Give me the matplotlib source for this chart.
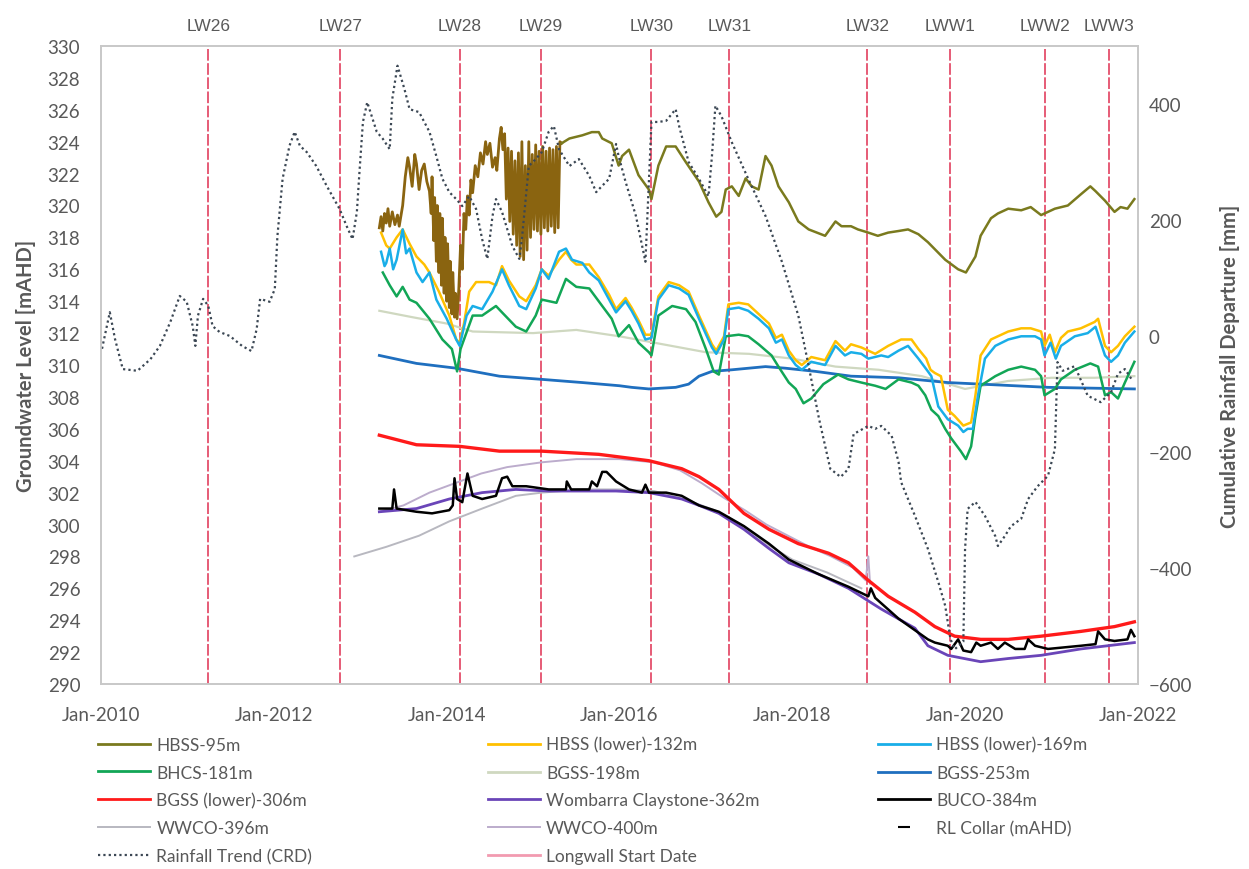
import numpy as np
import matplotlib.pyplot as plt
from matplotlib.lines import Line2D

plt.rcParams['font.family'] = ['Lato', 'DejaVu Sans']

# ---- data (decimal year, value) ----
# HBSS-95m: logger record (noisy) then smoothed record
hbss95_raw = [
    (2013.22, 318.6), (2013.24, 319.3), (2013.26, 318.4), (2013.28, 319.5), (2013.30, 318.9),
    (2013.32, 319.8), (2013.34, 318.7), (2013.37, 319.6), (2013.40, 318.8), (2013.43, 319.4),
    (2013.45, 318.7), (2013.49, 320.0), (2013.52, 321.8), (2013.55, 323.0), (2013.57, 322.4),
    (2013.60, 321.2), (2013.63, 323.2), (2013.65, 322.6), (2013.68, 321.0), (2013.71, 322.2),
    (2013.74, 322.6), (2013.77, 321.5), (2013.80, 320.9), (2013.82, 319.5), (2013.83, 321.8),
    (2013.85, 317.8), (2013.86, 320.5), (2013.88, 316.5), (2013.89, 320.0), (2013.91, 315.8),
    (2013.92, 319.5), (2013.94, 315.0), (2013.95, 319.2), (2013.97, 314.5), (2013.98, 318.0),
    (2014.00, 314.0), (2014.01, 317.6), (2014.03, 313.6), (2014.04, 316.5), (2014.06, 313.2),
    (2014.07, 315.8), (2014.09, 313.0), (2014.10, 314.5), (2014.12, 312.9), (2014.14, 314.8),
    (2014.16, 317.5), (2014.18, 316.0), (2014.20, 319.5), (2014.22, 318.5), (2014.24, 320.6),
    (2014.26, 319.4), (2014.28, 321.6), (2014.30, 320.8), (2014.33, 322.5), (2014.36, 321.8),
    (2014.39, 323.3), (2014.42, 322.6), (2014.45, 324.0), (2014.47, 323.2), (2014.50, 323.9),
    (2014.53, 322.4), (2014.56, 323.0), (2014.58, 322.2), (2014.61, 324.2), (2014.63, 324.9),
    (2014.65, 323.5), (2014.67, 324.5), (2014.69, 320.4), (2014.71, 323.6), (2014.73, 319.0),
    (2014.75, 323.4), (2014.77, 318.2), (2014.79, 322.8), (2014.81, 317.5), (2014.83, 323.3),
    (2014.85, 316.8), (2014.87, 324.0), (2014.89, 316.6), (2014.91, 322.5), (2014.93, 317.2),
    (2014.95, 324.0), (2014.97, 318.0), (2014.99, 323.2), (2015.01, 318.5), (2015.03, 323.8),
    (2015.05, 318.4), (2015.07, 323.4), (2015.09, 318.2), (2015.11, 323.7), (2015.13, 318.6),
    (2015.15, 323.4), (2015.17, 318.4), (2015.19, 323.6), (2015.21, 318.7), (2015.23, 323.5),
    (2015.25, 318.3), (2015.27, 323.7), (2015.29, 318.6), (2015.31, 324.0), (2015.33, 323.9),
]
hbss95 = [
    (2015.33, 323.9), (2015.42, 324.2), (2015.57, 324.4), (2015.68, 324.6), (2015.76, 324.6),
    (2015.80, 324.2), (2015.91, 323.9), (2015.99, 322.5), (2016.03, 323.1), (2016.11, 323.5),
    (2016.22, 321.9), (2016.34, 321.0), (2016.37, 320.4), (2016.45, 322.5), (2016.54, 323.7),
    (2016.65, 323.7), (2016.77, 322.7), (2016.92, 321.5), (2017.03, 320.2), (2017.12, 319.3),
    (2017.18, 319.6), (2017.23, 321.0), (2017.30, 321.2), (2017.38, 320.6), (2017.46, 321.7),
    (2017.53, 321.2), (2017.61, 321.0), (2017.69, 323.1), (2017.76, 322.5), (2017.84, 321.2),
    (2017.96, 320.2), (2018.07, 319.0), (2018.19, 318.5), (2018.38, 318.1), (2018.50, 319.0),
    (2018.57, 318.7), (2018.68, 318.7), (2018.76, 318.5), (2018.88, 318.3), (2018.99, 318.1),
    (2019.11, 318.3), (2019.23, 318.4), (2019.34, 318.5), (2019.46, 318.2), (2019.57, 317.7),
    (2019.77, 316.6), (2019.92, 316.0), (2020.01, 315.8), (2020.12, 316.8), (2020.18, 318.1),
    (2020.30, 319.2), (2020.38, 319.5), (2020.50, 319.8), (2020.65, 319.7), (2020.76, 319.9),
    (2020.88, 319.4), (2020.96, 319.6), (2021.04, 319.8), (2021.19, 320.0), (2021.34, 320.7),
    (2021.45, 321.2), (2021.51, 320.9), (2021.62, 320.3), (2021.73, 319.6), (2021.80, 319.9),
    (2021.88, 319.8), (2021.96, 320.4),
]
hbss132 = [
    (2013.24, 318.3), (2013.30, 317.5), (2013.34, 317.3), (2013.42, 318.0), (2013.49, 318.5),
    (2013.57, 317.6), (2013.65, 316.8), (2013.74, 316.3), (2013.80, 315.8), (2013.91, 314.6),
    (2014.03, 313.1), (2014.11, 311.6), (2014.15, 311.4), (2014.20, 312.6), (2014.26, 314.6),
    (2014.34, 315.2), (2014.49, 315.2), (2014.57, 315.0), (2014.64, 316.2), (2014.72, 315.3),
    (2014.84, 314.3), (2014.92, 314.0), (2015.03, 315.0), (2015.10, 316.0), (2015.18, 315.6),
    (2015.30, 316.6), (2015.38, 317.1), (2015.44, 316.6), (2015.50, 316.3), (2015.65, 316.3),
    (2015.76, 315.5), (2015.88, 314.4), (2015.96, 313.5), (2016.07, 314.2), (2016.14, 313.6),
    (2016.22, 312.8), (2016.30, 311.9), (2016.37, 311.9), (2016.45, 314.3), (2016.57, 315.2),
    (2016.69, 315.0), (2016.80, 314.6), (2016.92, 313.1), (2017.07, 311.3), (2017.12, 310.9),
    (2017.21, 311.8), (2017.26, 313.8), (2017.38, 313.9), (2017.49, 313.8), (2017.61, 313.2),
    (2017.73, 312.6), (2017.81, 311.7), (2017.88, 311.9), (2017.96, 310.9), (2018.04, 310.3),
    (2018.11, 310.0), (2018.22, 310.5), (2018.38, 310.3), (2018.50, 311.5), (2018.61, 310.9),
    (2018.68, 311.3), (2018.80, 311.1), (2018.96, 310.7), (2019.11, 311.2), (2019.26, 311.6),
    (2019.38, 311.6), (2019.46, 311.0), (2019.55, 310.4), (2019.60, 309.7), (2019.65, 309.5),
    (2019.72, 309.3), (2019.80, 307.2), (2019.88, 306.8), (2019.98, 306.2), (2020.07, 306.4),
    (2020.12, 308.1), (2020.18, 310.6), (2020.30, 311.6), (2020.50, 312.1), (2020.65, 312.3),
    (2020.76, 312.3), (2020.88, 312.1), (2020.92, 311.2), (2020.98, 311.9), (2021.04, 310.8),
    (2021.11, 311.7), (2021.19, 312.1), (2021.34, 312.3), (2021.50, 312.7), (2021.54, 312.9),
    (2021.62, 311.2), (2021.69, 310.8), (2021.77, 311.2), (2021.85, 311.8), (2021.96, 312.4),
]
hbss169 = [
    (2013.24, 317.1), (2013.28, 316.2), (2013.30, 316.4), (2013.34, 317.3), (2013.38, 316.0),
    (2013.42, 316.6), (2013.49, 318.5), (2013.53, 317.0), (2013.57, 317.3), (2013.65, 315.8),
    (2013.72, 315.2), (2013.80, 315.8), (2013.88, 314.1), (2014.00, 312.9), (2014.11, 311.6),
    (2014.15, 311.2), (2014.23, 313.1), (2014.30, 313.7), (2014.41, 313.5), (2014.53, 314.6),
    (2014.64, 316.0), (2014.72, 315.0), (2014.84, 313.7), (2014.92, 313.5), (2015.03, 314.8),
    (2015.10, 316.0), (2015.18, 315.4), (2015.30, 317.1), (2015.38, 317.3), (2015.45, 316.6),
    (2015.57, 316.4), (2015.65, 315.8), (2015.76, 315.3), (2015.88, 314.1), (2015.96, 313.3),
    (2016.07, 314.0), (2016.14, 313.4), (2016.22, 312.6), (2016.30, 311.6), (2016.37, 311.7),
    (2016.45, 314.1), (2016.57, 315.0), (2016.69, 314.8), (2016.80, 314.4), (2016.92, 312.9),
    (2017.07, 311.1), (2017.12, 310.7), (2017.21, 311.6), (2017.26, 313.5), (2017.38, 313.6),
    (2017.49, 313.4), (2017.61, 312.9), (2017.73, 312.3), (2017.81, 311.4), (2017.88, 311.6),
    (2017.96, 310.6), (2018.04, 310.0), (2018.11, 309.7), (2018.22, 310.2), (2018.38, 310.0),
    (2018.50, 311.2), (2018.61, 310.6), (2018.68, 310.8), (2018.80, 310.7), (2018.88, 310.4),
    (2019.03, 310.6), (2019.11, 310.5), (2019.23, 310.9), (2019.34, 311.2), (2019.46, 310.4),
    (2019.57, 309.6), (2019.61, 309.3), (2019.69, 307.4), (2019.80, 306.6), (2019.92, 306.2),
    (2019.98, 305.8), (2020.03, 306.0), (2020.09, 306.0), (2020.15, 308.1), (2020.23, 310.4),
    (2020.35, 311.2), (2020.50, 311.6), (2020.65, 311.8), (2020.81, 311.8), (2020.88, 311.6),
    (2020.92, 310.6), (2020.99, 311.4), (2021.05, 310.4), (2021.11, 311.2), (2021.27, 311.8),
    (2021.42, 312.0), (2021.51, 312.4), (2021.62, 310.6), (2021.69, 310.2), (2021.77, 310.6),
    (2021.85, 311.4), (2021.96, 312.1),
]
bhcs181 = [
    (2013.26, 315.8), (2013.34, 315.0), (2013.42, 314.3), (2013.49, 314.9), (2013.57, 314.1),
    (2013.65, 313.9), (2013.80, 312.9), (2013.95, 311.6), (2014.06, 311.0), (2014.12, 309.6),
    (2014.16, 311.0), (2014.30, 313.1), (2014.41, 313.1), (2014.57, 313.7), (2014.64, 313.3),
    (2014.80, 312.4), (2014.92, 312.1), (2015.03, 313.1), (2015.10, 314.1), (2015.27, 313.9),
    (2015.38, 315.4), (2015.50, 314.9), (2015.65, 314.8), (2015.80, 313.7), (2015.91, 312.9),
    (2015.99, 311.8), (2016.11, 312.5), (2016.22, 311.4), (2016.34, 310.8), (2016.37, 310.6),
    (2016.45, 313.1), (2016.61, 313.7), (2016.77, 313.5), (2016.88, 312.7), (2017.00, 311.0),
    (2017.09, 309.6), (2017.15, 309.4), (2017.23, 311.8), (2017.38, 311.9), (2017.49, 311.8),
    (2017.61, 311.3), (2017.76, 310.6), (2017.84, 309.9), (2017.96, 308.9), (2018.04, 308.5),
    (2018.13, 307.6), (2018.22, 307.9), (2018.36, 308.8), (2018.53, 309.4), (2018.65, 309.1),
    (2018.80, 308.9), (2018.96, 308.7), (2019.08, 308.5), (2019.23, 309.1), (2019.38, 308.9),
    (2019.46, 308.7), (2019.54, 308.1), (2019.61, 307.2), (2019.69, 306.8), (2019.77, 306.0),
    (2019.84, 305.4), (2019.95, 304.6), (2020.01, 304.1), (2020.07, 304.9), (2020.12, 306.8),
    (2020.18, 308.7), (2020.35, 309.3), (2020.50, 309.7), (2020.65, 309.9), (2020.81, 309.7),
    (2020.88, 309.3), (2020.92, 308.1), (2021.04, 308.5), (2021.11, 309.1), (2021.27, 309.7),
    (2021.45, 310.1), (2021.54, 309.9), (2021.62, 308.1), (2021.69, 308.3), (2021.77, 307.9),
    (2021.85, 308.9), (2021.96, 310.2),
]
bgss198 = [
    (2013.22, 313.4), (2013.60, 313.0), (2014.00, 312.6), (2014.30, 312.1), (2015.00, 312.0),
    (2015.50, 312.2), (2016.00, 311.8), (2016.50, 311.3), (2017.00, 310.8), (2017.50, 310.7),
    (2018.00, 310.4), (2018.50, 309.9), (2019.00, 309.7), (2019.50, 309.3), (2020.00, 308.5),
    (2020.50, 309.0), (2021.00, 309.2), (2021.50, 309.2), (2021.96, 309.3),
]
bgss253 = [
    (2013.22, 310.6), (2013.65, 310.1), (2014.11, 309.8), (2014.61, 309.3), (2015.10, 309.1),
    (2015.57, 308.9), (2016.00, 308.7), (2016.14, 308.6), (2016.34, 308.5), (2016.65, 308.6),
    (2016.80, 308.8), (2016.92, 309.3), (2017.07, 309.6), (2017.30, 309.7), (2017.69, 309.9),
    (2017.92, 309.8), (2018.27, 309.6), (2018.68, 309.3), (2019.23, 309.2), (2019.80, 308.9),
    (2020.96, 308.6), (2021.96, 308.5),
]
bgss306 = [
    (2013.22, 305.6), (2013.65, 305.0), (2014.15, 304.9), (2014.61, 304.6), (2015.10, 304.6),
    (2015.76, 304.4), (2016.34, 304.0), (2016.72, 303.5), (2016.92, 303.0), (2017.15, 302.2),
    (2017.44, 300.7), (2017.73, 299.7), (2018.07, 298.8), (2018.42, 298.2), (2018.65, 297.6),
    (2018.88, 296.5), (2019.11, 295.5), (2019.42, 294.5), (2019.65, 293.6), (2019.88, 293.0),
    (2020.18, 292.8), (2020.50, 292.8), (2020.88, 293.0), (2021.34, 293.3), (2021.73, 293.6),
    (2021.96, 293.9),
]
wombarra362 = [
    (2013.22, 300.8), (2013.65, 301.0), (2014.03, 301.6), (2014.41, 302.0), (2014.80, 302.2),
    (2015.18, 302.1), (2015.57, 302.1), (2015.96, 302.1), (2016.34, 302.0), (2016.72, 301.6),
    (2016.92, 301.2), (2017.15, 300.7), (2017.44, 299.7), (2017.73, 298.5), (2017.96, 297.6),
    (2018.30, 296.9), (2018.65, 296.0), (2019.03, 294.7), (2019.42, 293.5), (2019.57, 292.4),
    (2019.80, 291.8), (2020.18, 291.4), (2020.50, 291.6), (2020.88, 291.8), (2021.34, 292.2),
    (2021.96, 292.6),
]
buco384 = [
    (2013.22, 301.0), (2013.34, 301.0), (2013.37, 301.0), (2013.39, 302.2), (2013.42, 301.0),
    (2013.65, 300.8), (2013.83, 300.7), (2014.03, 300.9), (2014.07, 301.2), (2014.09, 302.9),
    (2014.12, 301.6), (2014.18, 301.4), (2014.24, 303.2), (2014.30, 301.8), (2014.41, 301.6),
    (2014.57, 301.8), (2014.64, 302.9), (2014.70, 303.0), (2014.76, 302.4), (2014.92, 302.4),
    (2015.18, 302.2), (2015.38, 302.2), (2015.39, 302.7), (2015.44, 302.2), (2015.65, 302.2),
    (2015.68, 302.7), (2015.74, 302.4), (2015.80, 303.3), (2015.85, 303.3), (2015.96, 302.7),
    (2016.11, 302.2), (2016.26, 302.0), (2016.30, 302.5), (2016.34, 302.0), (2016.54, 302.0),
    (2016.72, 301.8), (2016.92, 301.2), (2017.15, 300.8), (2017.44, 299.9), (2017.73, 298.8),
    (2017.96, 297.8), (2018.30, 296.9), (2018.65, 296.1), (2018.88, 295.5), (2018.91, 296.0),
    (2018.96, 295.4), (2019.23, 294.1), (2019.57, 292.8), (2019.65, 292.6), (2019.80, 292.4),
    (2019.84, 292.2), (2019.92, 292.8), (2019.98, 292.1), (2020.07, 292.0), (2020.13, 292.6),
    (2020.18, 292.4), (2020.30, 292.6), (2020.38, 292.2), (2020.46, 292.6), (2020.58, 292.2),
    (2020.69, 292.2), (2020.73, 292.8), (2020.81, 292.4), (2020.96, 292.2), (2021.34, 292.4),
    (2021.51, 292.5), (2021.54, 293.3), (2021.62, 292.8), (2021.73, 292.7), (2021.88, 292.8),
    (2021.92, 293.4), (2021.96, 293.0),
]
wwco396 = [
    (2012.93, 298.0), (2013.30, 298.6), (2013.68, 299.3), (2014.03, 300.2), (2014.41, 301.0),
    (2014.80, 301.8), (2015.10, 302.0), (2015.57, 302.2), (2016.00, 302.2), (2016.40, 302.1),
    (2016.80, 301.5), (2017.10, 300.9), (2017.44, 299.9), (2017.73, 298.7), (2018.00, 297.8),
    (2018.40, 297.0), (2018.80, 296.0),
]
wwco400 = [
    (2013.22, 300.8), (2013.50, 301.2), (2013.80, 302.0), (2014.10, 302.6), (2014.40, 303.2),
    (2014.70, 303.6), (2015.10, 303.9), (2015.50, 304.1), (2016.00, 304.1), (2016.40, 303.9),
    (2016.70, 303.4), (2016.95, 302.6), (2017.20, 301.7), (2017.45, 300.9), (2017.70, 300.0),
    (2017.95, 299.3), (2018.20, 298.6), (2018.45, 298.0), (2018.70, 297.3), (2018.85, 296.5),
    (2018.88, 298.0), (2018.90, 296.3),
]
# cumulative rainfall departure (mm), right axis
rainfall_crd = [
    (2010.01, -22), (2010.10, 41), (2010.16, -5), (2010.25, -57), (2010.42, -60), (2010.57, -40),
    (2010.68, -17), (2010.80, 24), (2010.91, 69), (2010.99, 59), (2011.06, 17), (2011.09, -17),
    (2011.12, 35), (2011.18, 64), (2011.24, 52), (2011.29, 17), (2011.37, 7), (2011.49, 0),
    (2011.63, -17), (2011.74, -26), (2011.80, 12), (2011.84, 64), (2011.95, 59), (2012.01, 81),
    (2012.04, 172), (2012.10, 271), (2012.18, 328), (2012.24, 352), (2012.30, 328), (2012.38, 317),
    (2012.49, 293), (2012.61, 259), (2012.76, 219), (2012.84, 190), (2012.91, 167), (2012.96, 214),
    (2012.99, 283), (2013.03, 369), (2013.08, 403), (2013.19, 352), (2013.26, 340), (2013.34, 322),
    (2013.37, 409), (2013.43, 466), (2013.51, 426), (2013.57, 391), (2013.68, 386), (2013.80, 352),
    (2013.88, 310), (2013.95, 271), (2014.03, 248), (2014.11, 236), (2014.18, 224), (2014.26, 241),
    (2014.34, 219), (2014.41, 167), (2014.47, 133), (2014.53, 207), (2014.57, 236), (2014.64, 214),
    (2014.76, 155), (2014.84, 133), (2014.87, 167), (2014.95, 293), (2015.03, 305), (2015.10, 317),
    (2015.18, 352), (2015.24, 362), (2015.30, 322), (2015.42, 293), (2015.53, 305), (2015.65, 276),
    (2015.73, 248), (2015.80, 259), (2015.88, 271), (2015.96, 331), (2015.99, 310), (2016.07, 266),
    (2016.19, 207), (2016.30, 128), (2016.37, 369), (2016.45, 369), (2016.54, 371), (2016.65, 391),
    (2016.69, 362), (2016.80, 300), (2016.92, 271), (2017.03, 241), (2017.07, 310), (2017.11, 397),
    (2017.18, 379), (2017.30, 334), (2017.49, 271), (2017.69, 207), (2017.88, 128), (2018.07, 35),
    (2018.19, -52), (2018.31, -143), (2018.44, -229), (2018.56, -243), (2018.65, -229),
    (2018.71, -169), (2018.88, -155), (2018.96, -160), (2019.03, -155), (2019.15, -172),
    (2019.23, -217), (2019.26, -252), (2019.42, -310), (2019.57, -367), (2019.69, -424),
    (2019.77, -465), (2019.83, -522), (2019.88, -540), (2019.98, -527), (2020.00, -367),
    (2020.03, -298), (2020.12, -286), (2020.23, -310), (2020.35, -345), (2020.38, -362),
    (2020.46, -345), (2020.53, -328), (2020.65, -315), (2020.73, -281), (2020.84, -259),
    (2020.96, -241), (2021.04, -195), (2021.07, -45), (2021.13, -60), (2021.27, -52),
    (2021.42, -103), (2021.57, -114), (2021.69, -97), (2021.77, -65), (2021.85, -57), (2021.93, -75),
]

longwall_names = ['LW26', 'LW27', 'LW28', 'LW29', 'LW30', 'LW31', 'LW32', 'LWW1', 'LWW2', 'LWW3']
longwall_start = [2011.24, 2012.77, 2014.15, 2015.09, 2016.37, 2017.27, 2018.87, 2019.83, 2020.92, 2021.67]

year_ticks = [2010, 2012, 2014, 2016, 2018, 2020, 2022]
year_labels = ['Jan-%d' % y for y in year_ticks]

# ---- colours ----
c_hbss95 = '#7a7a1e'
c_hbss95_raw = '#8a6410'
c_hbss132 = '#ffc000'
c_hbss169 = '#19aee8'
c_bhcs181 = '#12a656'
c_bgss198 = '#cfd8c0'
c_bgss253 = '#1f6fbf'
c_bgss306 = '#ff1a1a'
c_wombarra = '#6a45b8'
c_buco = '#000000'
c_wwco396 = '#b8b8c0'
c_wwco400 = '#bcaccc'
c_rain = '#3b4754'
c_lw = '#e2405f'
grey_txt = '#595959'


def xy(pairs):
    a = np.array(pairs, dtype=float)
    return a[:, 0], a[:, 1]


fig = plt.figure(figsize=(12.49, 8.70), dpi=100)
ax = fig.add_axes([0.081, 0.2126, 0.830, 0.7334])
ax2 = ax.twinx()

# longwall start dates
for name, yr in zip(longwall_names, longwall_start):
    ax.axvline(yr, color=c_lw, lw=1.2, ls=(0, (7, 1.5)), zorder=1)
    ax.text(yr, 1.032, name, transform=ax.get_xaxis_transform(), ha='center', va='center',
            fontsize=12.5, color=grey_txt, family='Liberation Sans')

ax.plot(*xy(wwco396), color=c_wwco396, lw=1.4, zorder=2)
ax.plot(*xy(wwco400), color=c_wwco400, lw=1.4, zorder=2)
ax.plot(*xy(bgss198), color=c_bgss198, lw=1.6, zorder=2)
ax.plot(*xy(bgss253), color=c_bgss253, lw=2.0, zorder=3)
ax.plot(*xy(bhcs181), color=c_bhcs181, lw=1.8, zorder=3)
ax.plot(*xy(hbss132), color=c_hbss132, lw=1.8, zorder=3)
ax.plot(*xy(hbss169), color=c_hbss169, lw=1.8, zorder=4)
ax.plot(*xy(bgss306), color=c_bgss306, lw=2.4, zorder=4)
ax.plot(*xy(wombarra362), color=c_wombarra, lw=2.0, zorder=4)
ax.plot(*xy(buco384), color=c_buco, lw=1.8, zorder=5)
ax.plot(*xy(hbss95_raw), color=c_hbss95_raw, lw=2.0, zorder=5)
ax.plot(*xy(hbss95), color=c_hbss95, lw=1.8, zorder=5)

ax2.plot(*xy(rainfall_crd), color=c_rain, lw=1.6, ls=(0, (1, 1.4)))

ax.set_xlim(2010, 2022)
ax.set_ylim(290, 330)
ax.set_yticks(np.arange(290, 331, 2))
ax.set_xticks(year_ticks)
ax.set_xticklabels(year_labels)
ax2.set_ylim(-600, 500)
ax2.set_yticks(np.arange(-600, 401, 200))

for a in (ax, ax2):
    a.tick_params(length=0, labelsize=13.5, labelcolor=grey_txt, pad=8)
    for sp in a.spines.values():
        sp.set_color('#c8c8c8')
        sp.set_linewidth(1.2)
ax.tick_params(axis='x', pad=16)
ax.tick_params(axis='y', pad=15)

ax.set_ylabel('Groundwater Level [mAHD]', fontsize=14.5, fontweight='bold', color=grey_txt, labelpad=8)
ax2.set_ylabel('Cumulative Rainfall Departure [mm]', fontsize=14.5, fontweight='bold', color=grey_txt,
               labelpad=20)


# legend: three equally spaced single-column blocks
def h(color, lw=2.0, ls='-', marker=None):
    return Line2D([], [], color=color, lw=lw, ls=ls, marker=marker)


legend_cols = [
    ([h(c_hbss95), h(c_bhcs181), h(c_bgss306), h(c_wwco396, 1.4), h(c_rain, 1.6, (0, (1, 1.4)))],
     ['HBSS-95m', 'BHCS-181m', 'BGSS (lower)-306m', 'WWCO-396m', 'Rainfall Trend (CRD)']),
    ([h(c_hbss132), h(c_bgss198), h(c_wombarra), h(c_wwco400, 1.4), h('#f29ab0', 2.0)],
     ['HBSS (lower)-132m', 'BGSS-198m', 'Wombarra Claystone-362m', 'WWCO-400m', 'Longwall Start Date']),
    ([h(c_hbss169), h(c_bgss253), h(c_buco),
      Line2D([], [], color='k', ls='none', marker='_', ms=8, mew=1.5)],
     ['HBSS (lower)-169m', 'BGSS-253m', 'BUCO-384m', 'RL Collar (mAHD)']),
]
for i, (hs, ls_) in enumerate(legend_cols):
    fig.legend(hs, ls_, ncol=1, loc='upper left', bbox_to_anchor=(0.073 + i * 0.3122, 0.160),
               frameon=False, fontsize=12.5, labelcolor=grey_txt, handlelength=3.0,
               handletextpad=0.35, labelspacing=0.68, borderaxespad=0.0)

fig.savefig('out.png', dpi=100)
